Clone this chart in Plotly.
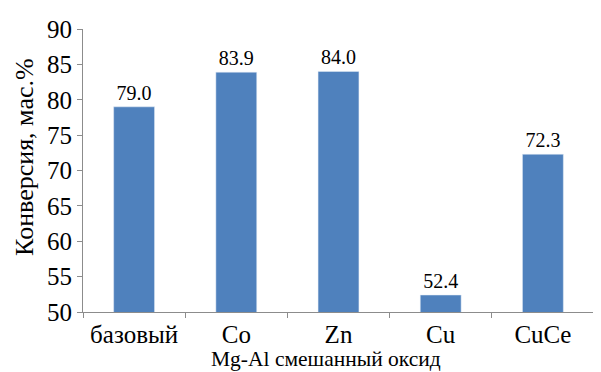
import plotly.graph_objects as go

categories = ["базовый", "Co", "Zn", "Cu", "CuCe"]
values = [79.0, 83.9, 84.0, 52.4, 72.3]
labels = ["79.0", "83.9", "84.0", "52.4", "72.3"]
y_ticks = [50, 55, 60, 65, 70, 75, 80, 85, 90]
x_title = "Mg-Al смешанный оксид"
y_title = "Конверсия, мас.%"

font = "Liberation Serif"

fig = go.Figure(go.Bar(
    x=categories, y=values, text=labels, textposition="outside",
    textfont=dict(family=font, size=20, color="black"),
    marker=dict(color="#4F81BD"), width=0.4, cliponaxis=False,
))

# page body has an 8px default margin; size the figure to fill the rest
fig.update_layout(
    width=593, height=364,
    margin=dict(l=75, r=7, t=21, b=60),
    plot_bgcolor="white", paper_bgcolor="white",
    showlegend=False,
    font=dict(family=font, size=22, color="black"),
    annotations=[
        dict(text=x_title, xref="paper", yref="paper", x=0.4755, y=-0.166,
             xanchor="center", yanchor="middle", showarrow=False,
             font=dict(family=font, size=21.5, color="black")),
        dict(text=y_title, xref="paper", yref="paper", x=-0.1135, y=0.548,
             xanchor="center", yanchor="middle", showarrow=False, textangle=-90,
             font=dict(family=font, size=26, color="black")),
    ],
)
fig.update_xaxes(
    showline=True, linecolor="#8c8c8c", linewidth=1,
    ticks="outside", tickson="boundaries", ticklen=5, tickcolor="#8c8c8c",
    tickfont=dict(family=font, size=25, color="black"),
)
fig.update_yaxes(
    range=[50, 90], tickvals=y_ticks, showgrid=False,
    showline=True, linecolor="#8c8c8c", linewidth=1,
    ticks="outside", ticklen=5, tickcolor="#8c8c8c",
    tickfont=dict(family=font, size=25, color="black"),
)

fig.write_html("out.html")
